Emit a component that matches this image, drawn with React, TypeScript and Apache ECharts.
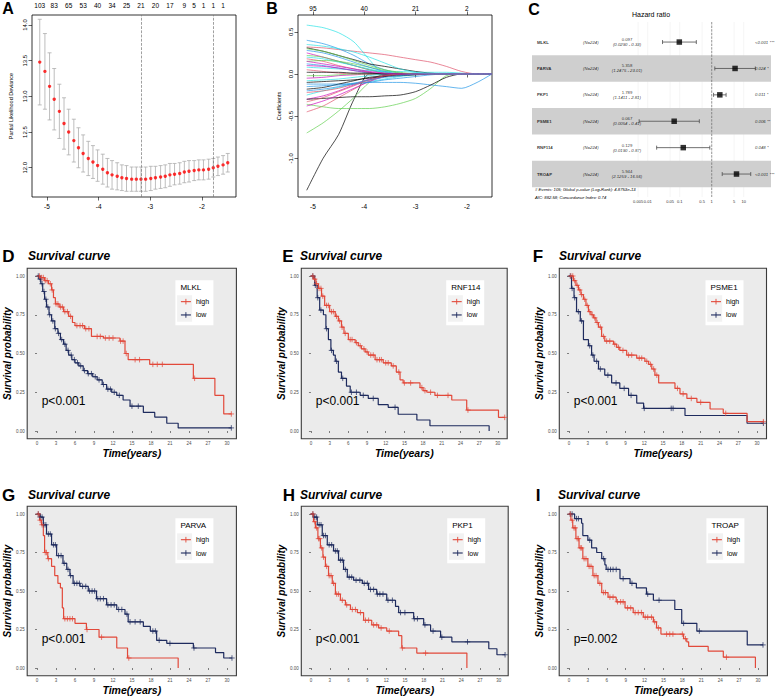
import React, { useEffect, useRef } from "react";
import * as echarts from "echarts";

const FONT = "'Liberation Sans', Arial, Helvetica, sans-serif";
const RED = "#E2493A";
const NAVY = "#1E2B5E";
const R_PAL = ["#000000", "#DF536B", "#61D04F", "#2297E6", "#28E2E5", "#CD0BBC"];

// ---------------- Panel A : cross-validation curve ----------------
const logLambdaA = [-5.14, -5.04, -4.95, -4.86, -4.76, -4.67, -4.58, -4.48, -4.39, -4.30, -4.20, -4.11, -4.02, -3.92, -3.83, -3.74, -3.64, -3.55, -3.46, -3.36, -3.27, -3.18, -3.09, -2.99, -2.90, -2.80, -2.71, -2.62, -2.53, -2.43, -2.34, -2.25, -2.15, -2.06, -1.97, -1.87, -1.78, -1.69, -1.59, -1.50];
const devianceA = [13.48, 13.35, 13.14, 12.96, 12.79, 12.62, 12.50, 12.38, 12.28, 12.20, 12.13, 12.08, 12.03, 11.98, 11.93, 11.90, 11.88, 11.86, 11.85, 11.84, 11.84, 11.84, 11.84, 11.85, 11.86, 11.87, 11.88, 11.90, 11.91, 11.92, 11.94, 11.95, 11.96, 11.97, 11.97, 11.98, 12.00, 12.02, 12.04, 12.07];
const devianceSeA = [0.60, 0.53, 0.47, 0.43, 0.38, 0.36, 0.32, 0.30, 0.28, 0.26, 0.24, 0.23, 0.22, 0.21, 0.20, 0.20, 0.19, 0.18, 0.18, 0.17, 0.17, 0.17, 0.17, 0.17, 0.16, 0.16, 0.16, 0.16, 0.15, 0.15, 0.15, 0.15, 0.14, 0.14, 0.14, 0.14, 0.13, 0.13, 0.13, 0.13];
const nonzeroA = ["103", "83", "65", "53", "40", "34", "25", "21", "20", "17", "9", "5", "1", "1", "1"];
const nonzeroAtA = [0, 3, 6, 9, 12, 15, 18, 21, 24, 27, 30, 32, 34, 36, 38];
const lambdaMinA = -3.18;
const lambda1seA = -1.78;
const yTicksA = [12.0, 12.5, 13.0, 13.5, 14.0];
const xTicksAB = [-5, -4, -3, -2];

// ---------------- Panel B : coefficient paths ----------------
const logLambdaB = [-5.12, -4.8, -4.5, -4.2, -3.9, -3.6, -3.3, -3.0, -2.7, -2.4, -2.1, -1.8, -1.51];
const coefPathsB = [
  [-1.38, -1.0, -0.72, -0.3, 0, 0, 0, 0, 0, 0, 0, 0, 0],
  [0.32, 0.31, 0.29, 0.27, 0.25, 0.23, 0.2, 0.17, 0.14, 0.09, 0.03, 0, 0],
  [-0.7, -0.58, -0.44, -0.28, -0.1, 0, 0, 0, 0, 0, 0, 0, 0],
  [0.4, 0.36, 0.3, 0.22, 0.12, 0.05, 0.01, 0, 0, 0, 0, 0, 0],
  [0.58, 0.55, 0.49, 0.38, 0.17, 0, 0, 0, 0, 0, 0, 0, 0],
  [0.25, 0.2, 0.15, 0.1, 0.05, 0.01, 0, 0, 0, 0, 0, 0, 0],
  [0.31, 0.27, 0.22, 0.17, 0.12, 0.09, 0.06, 0.03, 0.01, 0, 0, 0, 0],
  [-0.45, -0.38, -0.28, -0.18, -0.08, -0.02, 0, 0, 0, 0, 0, 0, 0],
  [-0.36, -0.39, -0.41, -0.41, -0.41, -0.39, -0.35, -0.29, -0.17, -0.02, 0, 0, 0],
  [-0.12, -0.12, -0.12, -0.11, -0.1, -0.1, -0.1, -0.11, -0.13, -0.15, -0.17, -0.1, 0],
  [-0.25, -0.2, -0.16, -0.12, -0.09, -0.06, -0.03, -0.01, 0, 0, 0, 0, 0],
  [-0.3, -0.26, -0.2, -0.13, -0.06, -0.02, 0, 0, 0, 0, 0, 0, 0],
  [-0.3, -0.29, -0.28, -0.27, -0.27, -0.26, -0.25, -0.21, -0.13, -0.04, 0, 0, 0],
  [0.18, 0.15, 0.1, 0.06, 0.02, 0, 0, 0, 0, 0, 0, 0, 0],
  [0.22, 0.2, 0.15, 0.1, 0.05, 0.02, 0, 0, 0, 0, 0, 0, 0],
  [0.12, 0.1, 0.07, 0.04, 0.01, 0, 0, 0, 0, 0, 0, 0, 0],
  [0.2, 0.18, 0.14, 0.1, 0.06, 0.02, 0, 0, 0, 0, 0, 0, 0],
  [-0.38, -0.32, -0.25, -0.17, -0.09, -0.03, 0, 0, 0, 0, 0, 0, 0],
  [-0.18, -0.16, -0.12, -0.08, -0.04, -0.02, -0.01, 0, 0, 0, 0, 0, 0],
  [-0.22, -0.2, -0.17, -0.12, -0.07, -0.03, 0, 0, 0, 0, 0, 0, 0],
  [0.15, 0.16, 0.15, 0.12, 0.08, 0.04, 0.01, 0, 0, 0, 0, 0, 0],
  [-0.15, -0.14, -0.13, -0.12, -0.1, -0.07, -0.05, -0.03, -0.01, 0, 0, 0, 0],
  [0.08, 0.07, 0.06, 0.05, 0.04, 0.03, 0.03, 0.02, 0.02, 0.02, 0.01, 0, 0],
  [-0.05, -0.04, -0.02, -0.01, 0, 0, 0, 0, 0, 0, 0, 0, 0],
  [-0.1, -0.09, -0.08, -0.07, -0.05, -0.03, -0.02, -0.01, 0, 0, 0, 0, 0],
  [0.05, 0.03, 0.01, 0, 0, 0, 0, 0, 0, 0, 0, 0, 0],
  [-0.02, -0.02, -0.01, 0, 0, 0, 0, 0, 0, 0, 0, 0, 0],
  [0.28, 0.25, 0.2, 0.14, 0.08, 0.03, 0, 0, 0, 0, 0, 0, 0],
  [-0.08, -0.07, -0.06, -0.04, -0.02, 0, 0, 0, 0, 0, 0, 0, 0],
  [0.1, 0.09, 0.07, 0.04, 0.02, 0, 0, 0, 0, 0, 0, 0, 0],
  [0.02, 0.02, 0.02, 0.01, 0.01, 0, 0, 0, 0, 0, 0, 0, 0],
  [-0.33, -0.28, -0.21, -0.14, -0.07, -0.02, 0, 0, 0, 0, 0, 0, 0],
  [0.3, 0.27, 0.22, 0.16, 0.1, 0.05, 0.02, 0, 0, 0, 0, 0, 0],
  [-0.2, -0.18, -0.15, -0.11, -0.07, -0.04, -0.02, 0, 0, 0, 0, 0, 0],
  [0.35, 0.33, 0.3, 0.26, 0.2, 0.13, 0.06, 0.02, 0, 0, 0, 0, 0],
  [0.15, 0.12, 0.09, 0.06, 0.03, 0.01, 0, 0, 0, 0, 0, 0, 0],
];
const dfTopB = ["95", "40", "21", "2"];
const yTicksB = [-1.0, -0.5, 0.0, 0.5];

// ---------------- Panel C : forest plot ----------------
const genesC = ["MLKL", "PARVA", "PKP1", "PSME1", "RNF114", "TROAP"];
const nC = 224;
const hrC = [0.097, 5.358, 1.789, 0.067, 0.129, 5.944];
const ciLowC = [0.029, 1.2475, 1.1411, 0.0054, 0.019, 2.1259];
const ciHighC = [0.33, 23.01, 2.81, 0.41, 0.87, 16.56];
const pC = ["<0.001 ***", "0.024 *", "0.011 *", "0.006 **", "0.048 *", "<0.001 ***"];
const stripeRowsC = [1, 3, 5];
const forestTicksC = [0.005, 0.01, 0.05, 0.1, 0.5, 1, 5, 10];
const refHR = 1;
const footerC = [
  "# Events: 105; Global p-value (Log-Rank): 4.8753e-13",
  "AIC: 882.58; Concordance Index: 0.74",
];

// ---------------- Panels D-I : Kaplan-Meier curves ----------------
const survD_high = [[0, 1], [0.5, 0.99], [1.2, 0.97], [1.8, 0.95], [2.3, 0.91], [2.6, 0.86], [2.9, 0.82], [3.5, 0.8], [4.2, 0.77], [5.0, 0.74], [5.6, 0.7], [6.0, 0.68], [7.5, 0.66], [8.6, 0.61], [10.5, 0.6], [13.1, 0.58], [13.9, 0.5], [14.4, 0.46], [17.8, 0.43], [24.7, 0.34], [28.1, 0.23], [29.5, 0.11], [30.7, 0.11]];
const survD_low = [[0, 1], [0.3, 0.98], [0.6, 0.95], [0.9, 0.9], [1.2, 0.85], [1.5, 0.8], [1.9, 0.75], [2.3, 0.71], [2.8, 0.66], [3.3, 0.63], [3.7, 0.59], [4.2, 0.56], [4.6, 0.52], [5.0, 0.49], [5.5, 0.46], [6.0, 0.44], [6.6, 0.42], [7.3, 0.39], [8.0, 0.37], [8.8, 0.35], [9.5, 0.33], [10.3, 0.3], [11.0, 0.27], [11.8, 0.25], [12.6, 0.23], [13.6, 0.2], [14.7, 0.16], [16.8, 0.12], [18.6, 0.09], [20.5, 0.05], [22.3, 0.02], [30.7, 0.02]];
const censD_high = [0.4, 0.7, 1.0, 1.3, 1.6, 2.1, 2.4, 3.0, 3.3, 3.7, 4.0, 4.4, 4.8, 5.3, 6.3, 6.8, 7.2, 7.7, 8.2, 9.5, 10.0, 10.8, 11.4, 12.0, 13.2, 13.6, 14.1, 15.5, 16.2, 18.3, 19.0, 19.8, 24.9, 30.7];
const censD_low = [0.2, 0.5, 0.8, 1.1, 1.4, 1.7, 2.0, 2.5, 2.9, 3.4, 3.9, 4.4, 4.9, 5.4, 5.9, 6.4, 6.9, 7.5, 8.1, 8.6, 9.2, 9.8, 10.5, 11.2, 11.6, 12.2, 13.0, 15.0, 16.0, 30.7];

const survE_high = [[0, 1], [0.4, 0.98], [0.8, 0.95], [1.2, 0.92], [1.7, 0.87], [2.2, 0.81], [3.0, 0.77], [3.9, 0.74], [4.4, 0.71], [4.9, 0.67], [5.3, 0.63], [6.0, 0.59], [7.1, 0.57], [7.6, 0.55], [8.1, 0.53], [8.7, 0.51], [9.2, 0.49], [10.3, 0.46], [11.6, 0.44], [12.9, 0.42], [13.7, 0.38], [14.3, 0.33], [14.8, 0.31], [17.5, 0.28], [18.0, 0.26], [18.6, 0.25], [19.9, 0.23], [22.6, 0.2], [25.0, 0.135], [30.1, 0.088], [31.1, 0.088]];
const survE_low = [[0, 1], [0.6, 0.94], [1.0, 0.86], [1.4, 0.78], [2.0, 0.75], [2.4, 0.66], [2.8, 0.59], [3.2, 0.52], [3.6, 0.49], [3.9, 0.45], [4.4, 0.38], [4.9, 0.34], [5.7, 0.29], [6.3, 0.25], [7.9, 0.23], [9.2, 0.21], [10.8, 0.17], [12.4, 0.153], [14.0, 0.108], [17.0, 0.071], [19.1, 0.034], [28.6, 0]];
const censE_high = [0.3, 0.6, 0.9, 1.3, 1.6, 1.9, 2.5, 2.8, 3.3, 3.6, 4.1, 4.6, 5.0, 5.5, 6.3, 6.6, 7.3, 7.9, 8.5, 9.0, 9.6, 10.0, 10.6, 11.0, 11.3, 12.0, 12.4, 13.2, 14.1, 15.0, 16.0, 17.8, 18.3, 19.2, 20.3, 22.0, 25.2, 31.1];
const censE_low = [0.3, 0.7, 1.1, 1.6, 2.5, 3.3, 4.1, 5.1, 6.5, 7.3, 8.4, 10.0, 13.5];

const survF_high = [[0, 1], [0.7, 0.97], [1.1, 0.94], [1.5, 0.91], [1.9, 0.88], [2.3, 0.85], [2.7, 0.81], [3.1, 0.77], [3.5, 0.75], [3.9, 0.73], [4.3, 0.7], [4.7, 0.67], [5.2, 0.61], [5.7, 0.58], [7.1, 0.56], [7.6, 0.54], [8.1, 0.52], [9.2, 0.49], [10.8, 0.47], [12.1, 0.45], [12.7, 0.43], [13.2, 0.4], [13.7, 0.36], [14.3, 0.31], [16.9, 0.275], [17.7, 0.24], [18.8, 0.21], [20.4, 0.185], [22.5, 0.142], [24.6, 0.114], [28.4, 0.06], [31.0, 0.06]];
const survF_low = [[0, 1], [0.4, 0.92], [0.8, 0.86], [1.2, 0.77], [1.8, 0.71], [2.3, 0.59], [3.1, 0.55], [3.6, 0.49], [4.0, 0.45], [4.7, 0.4], [5.7, 0.36], [6.8, 0.31], [8.1, 0.275], [9.5, 0.23], [10.8, 0.18], [11.9, 0.146], [18.5, 0.1], [28.4, 0.05], [31.0, 0.05]];
const censF_high = [0.3, 0.6, 0.9, 1.3, 1.7, 2.0, 2.5, 2.9, 3.3, 3.7, 4.1, 4.5, 5.0, 5.5, 6.0, 6.5, 7.3, 7.9, 8.6, 9.5, 10.0, 11.2, 11.6, 12.4, 13.0, 13.5, 14.0, 17.3, 18.2, 19.5, 21.0, 25.0, 31.0];
const censF_low = [0.2, 0.5, 0.9, 1.5, 2.0, 3.3, 3.8, 4.4, 5.0, 6.2, 7.5, 8.8, 9.9, 12.0, 16.3, 16.6, 31.0];

const survG_high = [[0, 1], [0.4, 0.96], [0.7, 0.93], [1.0, 0.86], [1.2, 0.75], [1.7, 0.71], [2.3, 0.66], [2.8, 0.6], [3.3, 0.55], [3.7, 0.52], [4.0, 0.39], [4.2, 0.32], [6.0, 0.29], [7.8, 0.25], [9.8, 0.2], [12.6, 0.13], [14.3, 0.065], [22.3, 0]];
const survG_low = [[0, 1], [0.5, 0.98], [1.0, 0.93], [1.5, 0.87], [2.3, 0.8], [3.1, 0.73], [4.1, 0.68], [4.7, 0.64], [5.2, 0.6], [5.7, 0.55], [6.8, 0.53], [8.1, 0.5], [9.4, 0.45], [11.0, 0.41], [12.6, 0.38], [13.9, 0.35], [14.4, 0.3], [16.8, 0.27], [17.9, 0.24], [18.9, 0.18], [20.5, 0.16], [24.7, 0.13], [28.2, 0.1], [29.5, 0.065], [30.8, 0.065]];
const censG_high = [0.2, 0.5, 0.8, 1.3, 1.5, 1.8, 4.4, 4.8, 5.2, 5.6, 7.9, 10.2, 14.5];
const censG_low = [0.2, 0.5, 0.8, 1.1, 1.4, 1.8, 2.1, 2.6, 2.9, 3.4, 3.8, 4.3, 4.9, 5.3, 5.9, 6.3, 6.7, 7.2, 7.7, 8.3, 8.7, 9.1, 9.6, 10.0, 10.5, 11.2, 11.7, 12.2, 12.9, 13.4, 14.2, 14.7, 15.5, 16.3, 18.3, 18.7, 19.3, 21.0, 24.8, 30.8];

const survH_high = [[0, 1], [0.4, 0.95], [0.7, 0.91], [1.1, 0.84], [1.5, 0.78], [1.9, 0.72], [2.3, 0.66], [2.8, 0.6], [3.4, 0.55], [3.9, 0.48], [4.7, 0.44], [5.5, 0.41], [6.3, 0.38], [7.4, 0.36], [8.4, 0.31], [9.7, 0.28], [10.8, 0.26], [12.1, 0.24], [14.0, 0.21], [14.5, 0.13], [16.9, 0.097], [24.9, 0]];
const survH_low = [[0, 1], [0.4, 0.98], [1.0, 0.93], [1.8, 0.86], [2.6, 0.8], [3.6, 0.76], [4.4, 0.7], [5.2, 0.64], [5.8, 0.59], [6.8, 0.57], [8.2, 0.55], [9.2, 0.51], [10.5, 0.48], [12.1, 0.44], [13.5, 0.4], [14.0, 0.36], [16.4, 0.32], [18.0, 0.28], [19.1, 0.24], [20.7, 0.2], [22.5, 0.17], [28.4, 0.125], [29.7, 0.086], [31.0, 0.086]];
const censH_high = [0.3, 0.6, 0.9, 1.2, 1.4, 1.7, 2.0, 2.5, 2.9, 3.2, 3.6, 4.1, 4.4, 5.0, 5.7, 6.6, 7.1, 7.9, 8.7, 9.2, 10.0, 10.5, 11.2, 12.5, 14.6, 18.3];
const censH_low = [0.3, 0.6, 0.9, 1.3, 1.6, 2.0, 2.3, 2.9, 3.3, 3.9, 4.2, 4.7, 5.0, 5.5, 6.1, 6.5, 7.2, 7.8, 8.5, 9.0, 9.5, 10.0, 10.6, 11.0, 11.5, 12.3, 13.0, 14.3, 15.0, 16.5, 17.0, 18.2, 19.5, 20.9, 25.0, 31.0];

const survI_high = [[0, 1], [0.3, 0.96], [0.6, 0.91], [1.1, 0.84], [1.6, 0.78], [2.2, 0.71], [3.0, 0.66], [3.8, 0.6], [4.6, 0.55], [5.2, 0.49], [6.2, 0.46], [7.5, 0.43], [8.9, 0.39], [10.2, 0.36], [11.8, 0.33], [13.4, 0.3], [13.9, 0.26], [14.6, 0.22], [18.2, 0.19], [18.7, 0.17], [19.0, 0.14], [22.1, 0.11], [24.5, 0.07], [29.6, 0]];
const survI_low = [[0, 1], [0.9, 0.97], [2.0, 0.94], [2.2, 0.86], [3.0, 0.83], [3.6, 0.78], [4.4, 0.75], [5.2, 0.71], [5.7, 0.67], [5.9, 0.64], [8.1, 0.58], [9.7, 0.55], [10.7, 0.52], [12.3, 0.48], [13.4, 0.44], [16.8, 0.38], [17.9, 0.29], [20.3, 0.24], [28.3, 0.15], [30.8, 0.15]];
const censI_high = [0.2, 0.5, 0.8, 1.0, 1.3, 1.5, 1.8, 2.0, 2.4, 2.7, 3.2, 3.5, 4.0, 4.3, 4.9, 5.5, 5.8, 6.5, 7.0, 7.7, 8.2, 8.6, 9.3, 9.8, 10.5, 11.0, 11.5, 12.1, 12.5, 13.1, 13.6, 14.2, 15.5, 16.0, 16.5, 18.0, 18.5, 25.0];
const censI_low = [0.2, 0.5, 1.2, 1.5, 3.3, 5.5, 6.2, 6.6, 7.0, 7.5, 8.6, 10.0, 12.5, 14.3, 18.2, 20.7, 30.8];

const survGenes = ["MLKL", "RNF114", "PSME1", "PARVA", "PKP1", "TROAP"];
const survLetters = ["D", "E", "F", "G", "H", "I"];
const survP = ["p<0.001", "p<0.001", "p<0.001", "p<0.001", "p<0.001", "p=0.002"];
const survHigh = [survD_high, survE_high, survF_high, survG_high, survH_high, survI_high];
const survLow = [survD_low, survE_low, survF_low, survG_low, survH_low, survI_low];
const censHigh = [censD_high, censE_high, censF_high, censG_high, censH_high, censI_high];
const censLow = [censD_low, censE_low, censF_low, censG_low, censH_low, censI_low];
const groupNames = ["high", "low"];
const xTicksSurv = [0, 3, 6, 9, 12, 15, 18, 21, 24, 27, 30];
const yTicksSurv = [0, 0.25, 0.5, 0.75, 1];

// ---------------- layout (pixels) ----------------
const survLayout = [
  { left: 27.2, top: 268.25, width: 209.2, height: 170.5, letterX: 8.5, titleX: 28, titleY: 256 },
  { left: 301.3, top: 268.25, width: 205.9, height: 170.5, letterX: 288, titleX: 300, titleY: 256 },
  { left: 559.3, top: 268.25, width: 207.2, height: 170.5, letterX: 538, titleX: 559, titleY: 256 },
  { left: 27.2, top: 506.3, width: 209.2, height: 169.4, letterX: 8.5, titleX: 28, titleY: 495 },
  { left: 301.3, top: 506.3, width: 206.9, height: 169.4, letterX: 289, titleX: 300, titleY: 495 },
  { left: 559.2, top: 506.3, width: 208.2, height: 169.4, letterX: 538, titleX: 558, titleY: 495 },
];
const colC = { gene: 5, n: 51, hr: 95, p: 223 };
const PLUS = "path://M5,0L5,10M0,5L10,5";

function survAt(curve: number[][], t: number) {
  let s = curve[0][1];
  for (const pt of curve) {
    if (pt[0] <= t) s = pt[1];
    else break;
  }
  return s;
}

function txt(x: number, y: number, text: string, o: any = {}) {
  return {
    type: "text",
    x,
    y,
    silent: true,
    style: {
      text,
      fontFamily: FONT,
      fontSize: o.size ?? 10,
      fontWeight: o.weight ?? "normal",
      fontStyle: o.style ?? "normal",
      fill: o.color ?? "#000",
      align: o.align ?? "left",
      verticalAlign: o.valign ?? "middle",
    },
  };
}

function buildOption() {
  const grids: any[] = [];
  const xAxes: any[] = [];
  const yAxes: any[] = [];
  const series: any[] = [];
  const graphic: any[] = [];

  const baseTick = { show: true, length: 3.5, lineStyle: { color: "#000", width: 0.6 } };

  // ---- grid 0 : A
  grids.push({ left: 32, top: 15, width: 204, height: 182, show: true, borderColor: "#000", borderWidth: 0.8, backgroundColor: "transparent" });
  xAxes.push({
    type: "value", gridIndex: 0, min: -5.29, max: -1.34, axisLine: { show: false }, splitLine: { show: false },
    axisTick: { ...baseTick, customValues: xTicksAB },
    axisLabel: { customValues: xTicksAB, fontSize: 6.5, margin: 6, color: "#000", fontFamily: FONT },
  });
  const topAtA = nonzeroAtA.map((i) => logLambdaA[i]);
  xAxes.push({
    type: "value", gridIndex: 0, position: "top", min: -5.29, max: -1.34, axisLine: { show: false }, splitLine: { show: false },
    axisTick: { show: false },
    axisLabel: {
      customValues: topAtA, fontSize: 6.5, margin: 6, color: "#000", fontFamily: FONT,
      formatter: (v: number) => {
        const k = topAtA.findIndex((a) => Math.abs(a - v) < 1e-6);
        return k >= 0 ? nonzeroA[k] : "";
      },
    },
  });
  yAxes.push({
    type: "value", gridIndex: 0, min: 11.59, max: 14.14, axisLine: { show: false }, splitLine: { show: false },
    axisTick: { ...baseTick, customValues: yTicksA },
    axisLabel: { customValues: yTicksA, rotate: 90, fontSize: 6, margin: 4, color: "#000", fontFamily: FONT, formatter: (v: number) => v.toFixed(1) },
    name: "Partial Likelihood Deviance", nameLocation: "middle", nameGap: 18,
    nameTextStyle: { fontSize: 5.5, color: "#000", fontFamily: FONT },
  });
  series.push({
    type: "custom", xAxisIndex: 0, yAxisIndex: 0, silent: true, z: 2,
    data: logLambdaA.map((x, i) => [x, devianceA[i] - devianceSeA[i], devianceA[i] + devianceSeA[i]]),
    encode: { x: 0, y: [1, 2] },
    renderItem: (_p: any, api: any) => {
      const x = api.value(0);
      const a = api.coord([x, api.value(1)]);
      const b = api.coord([x, api.value(2)]);
      const st = { stroke: "#ADADAD", lineWidth: 0.8 };
      return {
        type: "group",
        children: [
          { type: "line", shape: { x1: a[0], y1: a[1], x2: b[0], y2: b[1] }, style: st },
          { type: "line", shape: { x1: a[0] - 2, y1: a[1], x2: a[0] + 2, y2: a[1] }, style: st },
          { type: "line", shape: { x1: b[0] - 2, y1: b[1], x2: b[0] + 2, y2: b[1] }, style: st },
        ],
      };
    },
  });
  series.push({
    type: "scatter", xAxisIndex: 0, yAxisIndex: 0, z: 3, symbol: "circle", symbolSize: 3.4,
    itemStyle: { color: "#FF0000" },
    data: logLambdaA.map((x, i) => [x, devianceA[i]]),
    markLine: {
      silent: true, symbol: ["none", "none"], label: { show: false },
      lineStyle: { type: "dashed", color: "#777", width: 0.7 },
      data: [{ xAxis: lambdaMinA }, { xAxis: lambda1seA }],
    },
  });

  // ---- grid 1 : B
  grids.push({ left: 298, top: 15, width: 194, height: 182, show: true, borderColor: "#000", borderWidth: 0.8, backgroundColor: "transparent" });
  xAxes.push({
    type: "value", gridIndex: 1, min: -5.29, max: -1.51, axisLine: { show: false }, splitLine: { show: false },
    axisTick: { ...baseTick, customValues: xTicksAB },
    axisLabel: { customValues: xTicksAB, fontSize: 6.5, margin: 6, color: "#000", fontFamily: FONT },
  });
  xAxes.push({
    type: "value", gridIndex: 1, position: "top", min: -5.29, max: -1.51, axisLine: { show: false }, splitLine: { show: false },
    axisTick: { ...baseTick, customValues: xTicksAB },
    axisLabel: {
      customValues: xTicksAB, fontSize: 6.5, margin: 3, color: "#000", fontFamily: FONT,
      formatter: (v: number) => dfTopB[xTicksAB.indexOf(v)] ?? "",
    },
  });
  yAxes.push({
    type: "value", gridIndex: 1, min: -1.46, max: 0.7, axisLine: { show: false }, splitLine: { show: false },
    axisTick: { ...baseTick, customValues: yTicksB },
    axisLabel: { customValues: yTicksB, rotate: 90, fontSize: 6, margin: 4, color: "#000", fontFamily: FONT, formatter: (v: number) => v.toFixed(1) },
    name: "Coefficients", nameLocation: "middle", nameGap: 16,
    nameTextStyle: { fontSize: 5.5, color: "#000", fontFamily: FONT },
  });
  coefPathsB.forEach((path, k) => {
    series.push({
      type: "line", xAxisIndex: 2, yAxisIndex: 1, showSymbol: false, silent: true, smooth: 0.25, z: 2,
      lineStyle: { color: R_PAL[k % 6], width: 0.7 },
      data: path.map((v, i) => [logLambdaB[i], v]),
    });
  });

  // ---- grid 2 : C bands / text columns ; grid 3 : C forest
  grids.push({ left: 532, top: 22, width: 239, height: 175 });
  grids.push({ left: 635, top: 22, width: 124, height: 175 });
  xAxes.push({ type: "value", gridIndex: 2, min: 0, max: 239, show: false });
  xAxes.push({
    type: "log", logBase: 10, gridIndex: 3, min: 0.004, max: 30, axisLine: { show: false }, splitLine: { show: false },
    axisTick: { show: false },
    axisLabel: { customValues: forestTicksC, fontSize: 4, margin: 2, color: "#333", fontFamily: FONT, formatter: (v: number) => String(v) },
  });
  yAxes.push({ type: "value", gridIndex: 2, min: -0.76, max: 5.87, inverse: true, show: false });
  yAxes.push({ type: "value", gridIndex: 3, min: -0.76, max: 5.87, inverse: true, show: false });

  series.push({
    type: "custom", xAxisIndex: 5, yAxisIndex: 3, silent: true, z: 1,
    data: forestTicksC.map((t) => [t]),
    renderItem: (params: any, api: any) => {
      const cs = params.coordSys;
      const p = api.coord([api.value(0), 0]);
      return { type: "line", shape: { x1: p[0], y1: cs.y, x2: p[0], y2: cs.y + cs.height }, style: { stroke: "#EDEDED", lineWidth: 0.6 } };
    },
  });
  series.push({
    type: "custom", xAxisIndex: 4, yAxisIndex: 2, silent: true, z: 2,
    data: stripeRowsC.map((r) => [r]),
    renderItem: (params: any, api: any) => {
      const cs = params.coordSys;
      const r = api.value(0);
      const a = api.coord([0, r - 0.5]);
      const b = api.coord([0, r + 0.5]);
      return { type: "rect", shape: { x: cs.x, y: a[1], width: cs.width, height: b[1] - a[1] }, style: { fill: "#CFCFCF" } };
    },
  });
  const colLabel = (x: number, fmt: (i: number) => string, extra: any) => ({
    type: "scatter", xAxisIndex: 4, yAxisIndex: 2, symbolSize: 0.1, silent: true, z: 4,
    itemStyle: { color: "transparent" },
    data: genesC.map((_g, i) => [x, i]),
    label: {
      show: true, position: "inside", color: "#000", fontFamily: FONT, fontSize: 4.3,
      formatter: (p: any) => fmt(p.dataIndex), ...extra,
    },
  });
  series.push(colLabel(colC.gene, (i) => genesC[i], { align: "left", fontWeight: "bold" }));
  series.push(colLabel(colC.n, () => `(N=${nC})`, { align: "left", fontStyle: "italic" }));
  series.push(colLabel(colC.hr, (i) => `{a|${hrC[i].toFixed(3)}}\n{b|(${ciLowC[i].toFixed(4)} - ${ciHighC[i].toFixed(2)})}`, {
    align: "center",
    rich: {
      a: { fontSize: 4.3, fontFamily: FONT, lineHeight: 5, align: "center" },
      b: { fontSize: 4.3, fontFamily: FONT, fontStyle: "italic", lineHeight: 5, align: "center" },
    },
  }));
  series.push(colLabel(colC.p, (i) => pC[i], { align: "left", fontStyle: "italic" }));

  series.push({
    type: "custom", xAxisIndex: 5, yAxisIndex: 3, silent: true, z: 4,
    data: genesC.map((_g, i) => [ciLowC[i], ciHighC[i], i]),
    encode: { x: [0, 1], y: 2 },
    renderItem: (_p: any, api: any) => {
      const a = api.coord([api.value(0), api.value(2)]);
      const b = api.coord([api.value(1), api.value(2)]);
      const st = { stroke: "#4D4D4D", lineWidth: 0.8 };
      return {
        type: "group",
        children: [
          { type: "line", shape: { x1: a[0], y1: a[1], x2: b[0], y2: b[1] }, style: st },
          { type: "line", shape: { x1: a[0], y1: a[1] - 2, x2: a[0], y2: a[1] + 2 }, style: st },
          { type: "line", shape: { x1: b[0], y1: b[1] - 2, x2: b[0], y2: b[1] + 2 }, style: st },
        ],
      };
    },
  });
  series.push({
    type: "scatter", xAxisIndex: 5, yAxisIndex: 3, symbol: "rect", symbolSize: 5.5, silent: true, z: 5,
    itemStyle: { color: "#000" },
    data: hrC.map((h, i) => [h, i]),
  });
  series.push({
    type: "line", xAxisIndex: 5, yAxisIndex: 3, showSymbol: false, silent: true, z: 3,
    lineStyle: { type: "dashed", color: "#555", width: 0.6 },
    data: [[refHR, -0.76], [refHR, 5.87]],
  });

  // ---- survival panels
  survLayout.forEach((L, k) => {
    const gi = 4 + k;
    grids.push({ left: L.left, top: L.top, width: L.width, height: L.height, show: true, backgroundColor: "#EBEBEB", borderColor: "#3A3A3A", borderWidth: 1.1 });
    xAxes.push({
      type: "value", gridIndex: gi, min: -1.55, max: 31.5, axisLine: { show: false }, splitLine: { show: false },
      axisTick: { show: true, length: 2, lineStyle: { color: "#333", width: 0.6 }, customValues: xTicksSurv },
      axisLabel: { customValues: xTicksSurv, fontSize: 4.5, margin: 2.5, color: "#4D4D4D", fontFamily: FONT },
      name: "Time(years)", nameLocation: "middle", nameGap: 9,
      nameTextStyle: { fontSize: 10.5, fontWeight: "bold", fontStyle: "italic", color: "#000", fontFamily: FONT },
    });
    yAxes.push({
      type: "value", gridIndex: gi, min: -0.05, max: 1.05, axisLine: { show: false }, splitLine: { show: false },
      axisTick: { show: true, length: 2, lineStyle: { color: "#333", width: 0.6 }, customValues: yTicksSurv },
      axisLabel: { customValues: yTicksSurv, fontSize: 4.5, margin: 2.5, color: "#4D4D4D", fontFamily: FONT, formatter: (v: number) => v.toFixed(2) },
      name: "Survival probability", nameLocation: "middle", nameGap: 10,
      nameTextStyle: { fontSize: 10, fontWeight: "bold", fontStyle: "italic", color: "#000", fontFamily: FONT },
    });
    const curves = [survHigh[k], survLow[k]];
    const cens = [censHigh[k], censLow[k]];
    const cols = [RED, NAVY];
    [1, 0].forEach((g) => {
      series.push({
        type: "line", xAxisIndex: 6 + k, yAxisIndex: 4 + k, step: "end", showSymbol: false, silent: true, z: 3,
        lineStyle: { color: cols[g], width: 1.2 }, itemStyle: { color: cols[g] },
        data: curves[g],
      });
      series.push({
        type: "scatter", xAxisIndex: 6 + k, yAxisIndex: 4 + k, symbol: PLUS, symbolSize: 5.5, silent: true, z: 4,
        itemStyle: { color: "none", borderColor: cols[g], borderWidth: 0.9 },
        data: cens[g].map((t) => [t, survAt(curves[g], t)]),
      });
    });

    // titles, letter, p-value, legend
    graphic.push(txt(L.letterX, L.titleY, survLetters[k], { size: 17, weight: "bold", align: "center" }));
    graphic.push(txt(L.titleX, L.titleY, "Survival curve", { size: 12, weight: "bold", style: "italic" }));
    graphic.push(txt(L.left + 14.5, L.top + 132.7, survP[k], { size: 12 }));
    const x0 = L.left + L.width - 61;
    const y0 = L.top + 12;
    graphic.push({ type: "rect", silent: true, shape: { x: x0, y: y0, width: 38, height: 45 }, style: { fill: "#FFFFFF" } });
    graphic.push({ type: "rect", silent: true, shape: { x: x0 + 1.7, y: y0 + 15, width: 15, height: 26.5 }, style: { fill: "#F2F2F2" } });
    graphic.push(txt(x0 + 5, y0 + 7.5, survGenes[k], { size: 8 }));
    [0, 1].forEach((g) => {
      const yy = y0 + 21.4 + g * 13.3;
      const st = { stroke: cols[g], lineWidth: 1.1 };
      graphic.push({ type: "line", silent: true, shape: { x1: x0 + 5.5, y1: yy, x2: x0 + 15.5, y2: yy }, style: st });
      graphic.push({ type: "line", silent: true, shape: { x1: x0 + 10.5, y1: yy - 2.8, x2: x0 + 10.5, y2: yy + 2.8 }, style: { stroke: cols[g], lineWidth: 0.9 } });
      graphic.push(txt(x0 + 20.5, yy, groupNames[g], { size: 7 }));
    });
  });

  // ---- top panel annotations
  graphic.push(txt(8, 8, "A", { size: 16, weight: "bold", align: "center" }));
  graphic.push(txt(272, 8, "B", { size: 16, weight: "bold", align: "center" }));
  graphic.push(txt(534, 9, "C", { size: 16, weight: "bold", align: "center" }));
  graphic.push(txt(651, 14, "Hazard ratio", { size: 7, align: "center" }));
  graphic.push(txt(535, 189, footerC[0], { size: 4.2, style: "italic" }));
  graphic.push(txt(535, 197, footerC[1], { size: 4.2, style: "italic" }));

  return {
    animation: false,
    backgroundColor: "#FFFFFF",
    textStyle: { fontFamily: FONT },
    grid: grids,
    xAxis: xAxes,
    yAxis: yAxes,
    series,
    graphic: { elements: graphic },
  };
}

export default function App() {
  const ref = useRef<HTMLDivElement>(null);
  useEffect(() => {
    if (!ref.current) return;
    const chart = echarts.init(ref.current, null, { renderer: "svg" });
    chart.setOption(buildOption() as any);
    return () => chart.dispose();
  }, []);
  return (
    <div
      ref={ref}
      style={{ position: "absolute", left: 0, top: 0, width: 777, height: 697, background: "#fff" }}
    />
  );
}
